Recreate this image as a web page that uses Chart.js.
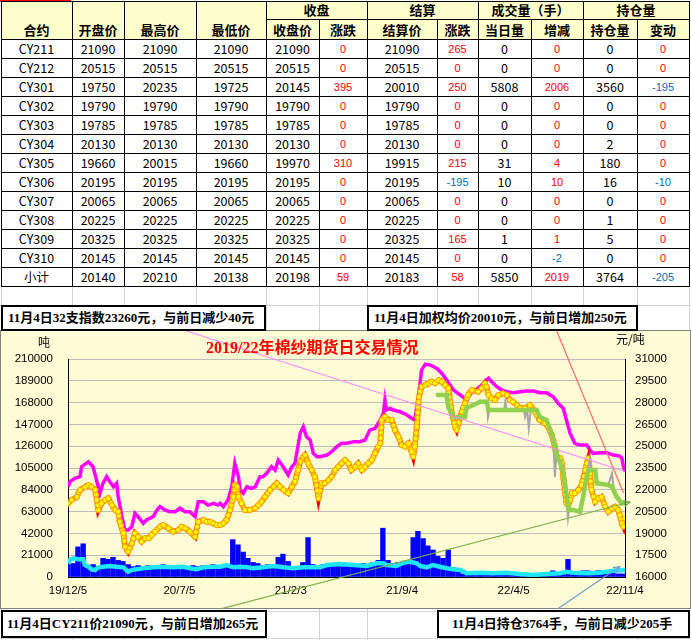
<!DOCTYPE html>
<html><head><meta charset="utf-8">
<script src="https://cdn.jsdelivr.net/npm/chart.js@4.4.1/dist/chart.umd.min.js"></script>
<style>
html,body{margin:0;padding:0;background:#fff;width:691px;height:640px;overflow:hidden;position:relative;font-family:"Noto Sans CJK SC",sans-serif;}
.hl{position:absolute;height:1px;background:#000;}
.vl{position:absolute;width:1px;background:#000;}
.gh{position:absolute;height:1px;background:#D4D4D4;}
.gv{position:absolute;width:1px;background:#D4D4D4;}
.cell{position:absolute;text-align:center;white-space:nowrap;overflow:visible;}
.hdr{font-weight:bold;font-size:13px;color:#000;line-height:19px;height:19px;}
.num{font-size:12.5px;color:#000;line-height:19px;height:19px;}
.chg{font-family:"Liberation Sans",Arial,sans-serif;font-size:11px;line-height:21px;height:19px;}
.box{position:absolute;background:#fff;border:2px solid #000;box-sizing:border-box;font:bold 13px "Liberation Serif","Noto Sans CJK SC",serif;white-space:nowrap;color:#000;}
#chartbox{position:absolute;left:0;top:330px;width:691px;height:279px;background:#FEFCD4;box-sizing:border-box;border:1px solid #808080;}
#cv{position:absolute;left:0;top:330px;}
.lbl{position:absolute;font-size:12px;color:#000;white-space:nowrap;}
#title{position:absolute;left:206px;top:334px;font:bold 16px "Liberation Serif","Noto Sans CJK SC",serif;color:#FF0000;white-space:nowrap;}
</style></head><body>
<div id="grid"></div>
<div id="tbl"></div>
<div id="chartbox"></div>
<canvas id="cv" width="691" height="279"></canvas>
<div id="title">2019/22年棉纱期货日交易情况</div>
<div class="lbl" style="left:38px;top:333px;">吨</div>
<div class="lbl" style="left:616px;top:330px;">元/吨</div>
<div class="box" id="boxTL" style="left:1px;top:305px;width:265px;height:26px;line-height:22px;padding-left:5px;">11月4日32支指数23260元，与前日减少40元</div>
<div class="box" id="boxTR" style="left:367px;top:305px;width:271px;height:26px;line-height:22px;padding-left:5px;">11月4日加权均价20010元，与前日增加250元</div>
<div class="box" id="boxBL" style="left:1px;top:610px;width:266px;height:28px;line-height:24px;padding-left:4px;">11月4日CY211价21090元，与前日增加265元</div>
<div class="box" id="boxBR" style="left:437px;top:610px;width:253px;height:28px;line-height:24px;padding-left:13px;">11月4日持仓3764手，与前日减少205手</div>
<script>
// ---------- table data ----------
const contracts   = ['CY211','CY212','CY301','CY302','CY303','CY304','CY305','CY306','CY307','CY308','CY309','CY310','小计'];
const openPrice   = [21090,20515,19750,19790,19785,20130,19660,20195,20065,20225,20325,20145,20140];
const highPrice   = [21090,20515,20235,19790,19785,20130,20015,20195,20065,20225,20325,20145,20210];
const lowPrice    = [21090,20515,19725,19790,19785,20130,19660,20195,20065,20225,20325,20145,20138];
const closePrice  = [21090,20515,20145,19790,19785,20130,19970,20195,20065,20225,20325,20145,20198];
const closeChg    = [0,0,395,0,0,0,310,0,0,0,0,0,59];
const settlePrice = [21090,20515,20010,19790,19785,20130,19915,20195,20065,20225,20325,20145,20183];
const settleChg   = [265,0,250,0,0,0,215,-195,0,0,165,0,58];
const dayVolume   = [0,0,5808,0,0,0,31,10,0,0,1,0,5850];
const volumeChg   = [0,0,2006,0,0,0,4,10,0,0,1,-2,2019];
const openInt     = [0,0,3560,0,0,2,180,16,0,1,5,0,3764];
const openIntChg  = [0,0,-195,0,0,0,0,-10,0,0,0,0,-205];
const groupHeaders = ['收盘','结算','成交量（手）','持仓量'];
const mainHeaders  = ['合约','开盘价','最高价','最低价'];
const subHeaders   = ['收盘价','涨跌','结算价','涨跌','当日量','增减','持仓量','变动'];

// ---------- chart data (x = days since 2019-12-05) ----------
const xTickDays   = [0,213,426,639,852,1065];
const xTickLabels = ['19/12/5','20/7/5','21/2/3','21/9/4','22/4/5','22/11/4'];

const index32Days = [0,4,13,23,26,39,48,61,67,74,80,87,93,96,103,109,115,122,128,134,144,150,163,170,176,185,195,205,214,224,233,243,249,259,268,278,287,291,297,306,313,319,326,329,335,342,351,358,367,373,380,389,396,402,409,415,421,428,434,444,450,456,463,469,476,482,495,504,514,523,533,546,558,568,577,587,597,603,606,609,616,622,635,648,657,663,670,676,683,692,705,715,724,737,750,759,769,775,781,791,797,804,810,820,829,839,851,864,877,890,902,915,928,937,947,953,960,969,979,992,998,1004,1017,1030,1043,1055,1059,1062,1065];
const index32Values = [22200,22560,22790,22900,23590,23930,23590,21760,22450,22900,22560,22210,22450,21520,20150,19230,19230,19460,20380,20150,19690,19920,20150,20610,20840,20610,20490,20490,20730,20490,20490,20150,21180,21180,20950,21070,20950,21070,20840,21300,22210,23820,22900,21990,21760,22210,22100,22210,22900,22900,23130,23590,23360,24050,23710,23360,23020,23590,23820,25890,26340,25650,25430,24510,24280,24280,24390,24620,24970,25200,25200,25310,25310,25430,26110,26230,26800,27260,28180,27490,27610,27490,27370,27150,26920,26800,28400,30240,30630,30590,30360,30010,29550,28870,28520,28290,28520,28870,28910,29210,29440,29670,29440,29090,28870,28750,28680,28750,28800,28800,28680,28680,28400,27950,27610,26800,25890,25200,25080,25080,24740,24510,24550,24550,24390,24320,24190,23590,23260];

const avgDays = [0,7,17,23,33,39,45,52,58,64,71,77,84,90,96,99,106,109,115,122,128,134,141,147,154,160,166,176,182,192,201,211,217,224,233,243,249,259,265,272,278,284,291,297,303,310,316,319,323,326,332,338,348,358,364,370,377,386,393,399,405,412,421,428,434,440,444,450,453,459,466,472,479,485,491,498,504,511,517,523,530,536,542,549,555,562,568,574,581,587,593,597,600,606,612,619,625,632,638,644,651,657,660,663,667,671,676,683,689,695,702,708,715,721,727,734,740,743,753,759,765,772,784,791,797,800,804,810,816,823,832,839,845,851,858,864,874,883,893,902,912,918,925,931,934,941,944,947,950,953,957,960,963,969,976,982,989,992,995,998,1001,1008,1014,1020,1027,1033,1040,1046,1052,1055,1059,1062,1065];
const avgValues = [21070,21300,21520,21990,22210,22330,22210,21990,20610,21070,21300,21410,20950,20610,20490,19800,19010,18080,17740,18320,19010,18770,18430,18660,18660,18890,19120,19460,19580,19350,19120,19230,19460,19350,19120,18770,19800,19920,19800,19800,19690,19580,19580,19690,19920,20610,21520,22330,22210,21520,21070,20610,20610,20730,20950,21180,21520,21990,22210,22450,22210,21990,21760,22210,22560,23360,23930,24280,24390,23820,23360,22900,21410,22450,22450,22670,22900,23360,23590,23820,24050,23820,23360,23590,23820,23360,23590,23820,24050,24510,24970,25200,26800,27030,26800,26800,26110,25650,25080,24970,25200,24620,24280,24970,26340,28400,29090,29210,29330,29440,29330,29550,29440,29210,28980,27260,26340,26110,27370,27950,28520,28870,28750,28980,29330,29090,28520,28290,28180,28520,28640,28520,28180,28060,27830,27610,27610,27830,27370,26800,26570,26340,25770,24970,24280,24170,23820,22900,21990,21070,20950,21300,21760,21760,21990,22330,23360,23820,24170,23130,21990,21180,21410,21520,20840,20490,20730,20840,20610,20270,19690,19460,20010];

const cy211Days   = [707,724,727,736,759,762,775,788,801,804,829,845,858,896,902,915,922,928,934,941,947,952,957,966,979,985,992,995,1008,1011,1033,1040,1049,1059,1065];
const cy211Values = [28520,28520,27700,27010,27000,27630,27830,28060,28060,27490,27490,27490,27490,27490,27030,26800,26110,25430,24530,23840,23160,21990,20610,20610,20490,21520,22900,23360,23360,22450,22330,22210,21520,21070,21090];

const cy211RawDays   = [707,724,727,736,759,762,775,788,801,803,806,834,836,839,872,874,878,881,885,896,902,915,922,928,931,934,941,947,952,956,958,979,985,992,998,1001,1008,1011,1033,1040,1043,1049,1059,1065];
const cy211RawValues = [28520,28520,27700,27010,27000,27630,27830,28060,28060,27000,27490,27490,28060,27490,27490,27000,27490,26250,27490,27490,27030,26800,26110,25430,22880,24530,23840,23160,21990,20060,20610,20490,21520,22900,24190,23360,23360,22450,22330,23130,22210,21520,21070,21090];

const oiDays   = [0,4,10,20,29,32,39,45,52,58,67,80,93,106,115,122,131,144,163,182,201,220,233,246,259,278,291,303,316,329,342,354,373,393,412,431,450,469,482,495,520,546,571,590,603,609,628,641,654,667,673,686,698,711,724,737,750,762,788,813,839,864,890,915,941,953,966,992,1017,1043,1065];
const oiValues = [13200,16400,18000,17050,17050,11560,9920,7420,6740,9340,9920,10600,9920,9340,5100,6740,7420,8380,9340,9920,9340,9920,8380,7420,9340,9920,9920,11560,9340,9920,9340,8380,9340,10600,9340,8380,9340,9340,9340,11560,12520,11560,10600,13200,13200,11560,10600,13770,14740,13200,10600,9340,11560,9920,8380,7420,6740,3560,4140,3560,4140,2890,1930,2890,3560,5100,4140,3560,4140,6070,6740];

const volDays = [0,10,19,29,38,48,57,67,76,86,96,105,115,124,134,143,153,163,172,182,191,201,210,220,229,239,249,258,268,277,287,296,306,315,325,335,344,354,363,373,382,392,402,411,421,430,440,449,459,468,478,488,497,507,516,526,535,545,554,564,574,583,593,602,612,621,631,641,650,660,669,679,688,698,707,717,727,736,746,755,765,774,784,793,803,813,822,832,841,851,860,870,880,889,899,908,918,927,937,946,956,966,975,985,994,1004,1013,1023,1032,1042,1052,1061];
const volValues = [12000,13000,29000,32000,11000,12000,10000,18000,17000,19000,16000,15000,12000,10000,11000,10000,11000,10000,11000,12000,10000,11000,10000,11000,10000,11000,10000,11000,10000,12000,11000,10000,12000,36000,31000,24000,18000,14000,13000,11000,12000,11000,19000,22000,15000,9000,10000,14000,38000,12000,11000,12000,13000,11000,12000,10000,12000,11000,12000,13000,11000,14000,16000,47000,16000,13000,14000,12000,14000,38000,44000,37000,30000,26000,20000,18000,26000,9000,5000,3000,2500,2500,2000,2000,2000,2000,2000,2000,2000,2500,2000,2000,2000,2000,2000,2000,2000,6000,2000,3000,17000,3000,3000,6000,6000,5000,6000,6000,6000,4000,3000,3000];

// callout anchors (data units)
const calloutAvgAnchor = {x:1062, y:21800};
const calloutOiAnchor  = {x:1055, y:10000};

// ---------- build table ----------
const colEdges = [1,72,124,196,266,319,367,437,478,531,583,637,689];
const groupSpans = [[4,6],[6,8],[8,10],[10,12]];
const tbl = document.getElementById('tbl');
const grid = document.getElementById('grid');
function el(parent, cls, style, text){const d=document.createElement('div');d.className=cls;Object.assign(d.style,style);if(text!==undefined)d.textContent=text;parent.appendChild(d);return d;}
const px = v=>v+'px';
colEdges.forEach(x=>el(grid,'gv',{left:px(x),top:'286px',height:'354px'}));
[305,611,638].forEach(y=>el(grid,'gh',{left:'0px',top:px(y),width:'691px'}));
el(tbl,'',{position:'absolute',left:px(colEdges[0]),top:'1px',width:px(colEdges[12]-colEdges[0]),height:'38px',background:'#FFFFCC'});
el(tbl,'',{position:'absolute',left:'0px',top:'0px',width:'71px',height:'2px',background:'#FF0000'});
mainHeaders.forEach((t,i)=>el(tbl,'cell hdr',{left:px(colEdges[i]),width:px(colEdges[i+1]-colEdges[i]),top:'20px'},t));
groupHeaders.forEach((t,i)=>{const [a,b]=groupSpans[i];el(tbl,'cell hdr',{left:px(colEdges[a]),width:px(colEdges[b]-colEdges[a]),top:'0px'},t);});
subHeaders.forEach((t,i)=>el(tbl,'cell hdr',{left:px(colEdges[i+4]),width:px(colEdges[i+5]-colEdges[i+4]),top:'20px'},t));
const cols = [contracts,openPrice,highPrice,lowPrice,closePrice,closeChg,settlePrice,settleChg,dayVolume,volumeChg,openInt,openIntChg];
const chgCols = new Set([5,7,9,11]);
contracts.forEach((_,r)=>{
  cols.forEach((arr,c)=>{
    const v = arr[r];
    const st = {left:px(colEdges[c]),width:px(colEdges[c+1]-colEdges[c]),top:px(39+19*r)};
    if(chgCols.has(c)){ st.color = v<0 ? '#0070C0' : '#FF0000'; el(tbl,'cell chg',st,String(v)); }
    else el(tbl,'cell num',st,String(v));
  });
});
[1,39].forEach(y=>el(tbl,'hl',{left:px(colEdges[0]),top:px(y),width:px(colEdges[12]-colEdges[0]+1)}));
for(let r=1;r<=13;r++) el(tbl,'hl',{left:px(colEdges[0]),top:px(39+19*r),width:px(colEdges[12]-colEdges[0]+1)});
el(tbl,'hl',{left:px(colEdges[4]),top:'19px',width:px(colEdges[12]-colEdges[4])});
const fullV = new Set([0,1,2,3,4,6,8,10,12]);
colEdges.forEach((x,i)=>{ const top = fullV.has(i)?1:19; el(tbl,'vl',{left:px(x),top:px(top),height:px(286-top+1)}); });

// ---------- chart ----------
const pts = (xs,ys)=>xs.map((x,i)=>({x:x,y:ys[i]}));
const tickFont = {family:'"Liberation Sans", Arial, sans-serif', size:11.5};

const calloutPlugin = {
  id:'callouts',
  afterDraw(chart){
    const {ctx, scales} = chart;
    const sx = scales.x, sy = scales.y, sy2 = scales.y2;
    const cvRect = chart.canvas.getBoundingClientRect();
    function start(id, frac, edge){
      const r = document.getElementById(id).getBoundingClientRect();
      return {x: r.left + r.width*frac - cvRect.left, y: (edge==='bottom'? r.bottom : r.top) - cvRect.top};
    }
    const n32 = index32Days.length-1, nc = cy211Days.length-1;
    const items = [
      [start('boxTL',0.70,'bottom'), {x:sx.getPixelForValue(index32Days[n32]), y:sy2.getPixelForValue(index32Values[n32])}, '#FF88FF', false],
      [start('boxTR',0.70,'bottom'), {x:sx.getPixelForValue(calloutAvgAnchor.x), y:sy2.getPixelForValue(calloutAvgAnchor.y)}, '#FF6A6A', false],
      [start('boxBL',0.81,'top'), {x:sx.getPixelForValue(cy211Days[nc])+5, y:sy2.getPixelForValue(cy211Values[nc])-1}, '#7BAF4A', true],
      [start('boxBR',0.47,'top'), {x:sx.getPixelForValue(calloutOiAnchor.x), y:sy.getPixelForValue(calloutOiAnchor.y)}, '#6C9FD6', true]
    ];
    ctx.save();
    items.forEach(([a,b,color,arrow])=>{
      ctx.strokeStyle=color; ctx.lineWidth=1.2;
      ctx.beginPath(); ctx.moveTo(a.x,a.y); ctx.lineTo(b.x,b.y); ctx.stroke();
      if(arrow){
        const ang=Math.atan2(b.y-a.y,b.x-a.x), L=7;
        ctx.beginPath();
        ctx.moveTo(b.x-L*Math.cos(ang-0.45), b.y-L*Math.sin(ang-0.45));
        ctx.lineTo(b.x,b.y);
        ctx.lineTo(b.x-L*Math.cos(ang+0.45), b.y-L*Math.sin(ang+0.45));
        ctx.stroke();
      }
    });
    ctx.restore();
  }
};

const avgPts = pts(avgDays,avgValues);
new Chart(document.getElementById('cv'), {
  type:'bar',
  data:{ datasets:[
    {type:'line', label:'CY211', data:pts(cy211Days,cy211Values), yAxisID:'y2', borderColor:'#92D050', borderWidth:4.5, pointRadius:2.2, pointBackgroundColor:'#92D050', pointBorderWidth:0, tension:0, order:1},
    {type:'line', label:'CY211收盘', data:pts(cy211RawDays,cy211RawValues), yAxisID:'y2', borderColor:'#A6A6A6', borderWidth:2, pointRadius:0, tension:0, order:2},
    {type:'line', label:'加权均价', data:avgPts, yAxisID:'y2', borderColor:'#FFF200', borderWidth:4.2, borderDash:[0.01,5.2], borderCapStyle:'round', pointRadius:2.6, pointBackgroundColor:'#FFFF00', pointBorderColor:'#FF9A00', pointBorderWidth:1, tension:0, order:3},
    {type:'line', label:'加权均价边', data:avgPts, yAxisID:'y2', borderColor:'#FF9A00', borderWidth:6.4, borderDash:[0.01,5.2], borderCapStyle:'round', pointRadius:0, tension:0, order:3.5},
    {type:'line', label:'加权均价线', data:avgPts, yAxisID:'y2', borderColor:'#FF0000', borderWidth:5, pointRadius:0, tension:0, order:3.8},
    {type:'line', label:'32支指数', data:pts(index32Days,index32Values), yAxisID:'y2', borderColor:'#FF00FF', borderWidth:3.5, pointRadius:0, tension:0, order:4},
    {type:'line', label:'持仓', data:pts(oiDays,oiValues), yAxisID:'y', borderColor:'#1FE6F2', borderWidth:4.5, pointRadius:0, tension:0, order:5},
    {type:'bar', label:'成交', data:pts(volDays,volValues), yAxisID:'y', backgroundColor:'#0000FF', barPercentage:1, categoryPercentage:1, order:6}
  ]},
  options:{
    responsive:false, animation:false, devicePixelRatio:1, events:[],
    layout:{padding:{top:29,left:0,right:0,bottom:0}},
    plugins:{legend:{display:false}, tooltip:{enabled:false}},
    scales:{
      x:{type:'linear', min:0, max:1065, offset:false,
         grid:{display:false, drawTicks:false, offset:false},
         border:{display:true, color:'#000', width:1},
         afterBuildTicks:(s)=>{ s.ticks = xTickDays.map(v=>({value:v})); },
         ticks:{autoSkip:false, maxRotation:0, padding:7, color:'#000', font:tickFont,
                callback:(v)=>{ const i = xTickDays.indexOf(v); return i>=0 ? xTickLabels[i] : ''; }},
         afterFit:(s)=>{ s.height = 32; }},
      y:{type:'linear', position:'left', min:0, max:210000,
         grid:{color:'#BDBDBD', lineWidth:1, drawTicks:false},
         border:{display:true, color:'#000', width:1},
         ticks:{stepSize:21000, padding:15, color:'#000', font:tickFont, callback:(v)=>String(v)},
         afterFit:(s)=>{ s.width = 68; }},
      y2:{type:'linear', position:'right', min:16000, max:31000,
         grid:{display:false, drawTicks:false},
         border:{display:true, color:'#000', width:1},
         ticks:{stepSize:1500, padding:10, color:'#000', font:tickFont, callback:(v)=>String(v)},
         afterFit:(s)=>{ s.width = 66; }}
    }
  },
  plugins:[calloutPlugin]
});
</script>
</body></html>
